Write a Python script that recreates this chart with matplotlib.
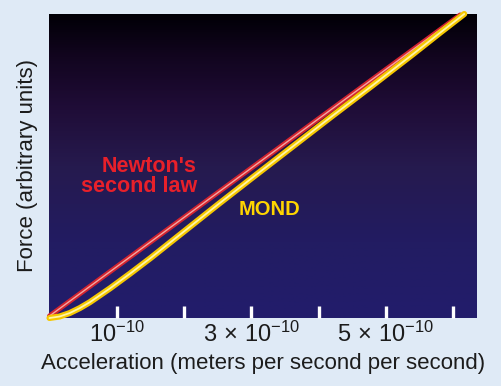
import numpy as np
import matplotlib
matplotlib.use("Agg")
import matplotlib.pyplot as plt
from matplotlib.colors import LinearSegmentedColormap

# data (acceleration in units of 1e-10 m/s^2, force arbitrary)
newton_a = [0.0, 6.1]
newton_f = [0.04, 6.12]

mond_a = [0.0, 0.15, 0.3, 0.45, 0.6, 0.75, 0.9, 1.05, 1.2, 1.5, 2.0, 2.5,
          3.0, 3.6, 4.2, 4.8, 5.4, 5.8, 6.16]
mond_f = [0.0, 0.03, 0.10, 0.20, 0.32, 0.46, 0.60, 0.75, 0.90, 1.21, 1.75,
          2.29, 2.82, 3.45, 4.08, 4.70, 5.33, 5.76, 6.14]

tick_pos = [1, 2, 3, 4, 5, 6]
tick_labels = [r"$10^{-10}$", "", r"$3\,\times\,10^{-10}$", "",
               r"$5\,\times\,10^{-10}$", ""]

FONT = ["Liberation Sans", "DejaVu Sans"]
plt.rcParams["font.family"] = FONT
plt.rcParams["mathtext.fontset"] = "custom"
plt.rcParams["mathtext.rm"] = "Liberation Sans"
plt.rcParams["mathtext.it"] = "Liberation Sans"

BG = "#dfeaf6"
TXT = "#1c1c1c"

fig = plt.figure(figsize=(5.02, 3.86), dpi=100, facecolor=BG)
ax = fig.add_axes([49.5 / 502, 68 / 386, 427.5 / 502, 304 / 386])

xmax, ymax = 6.35, 6.14
ax.set_xlim(0, xmax)
ax.set_ylim(0, ymax)

# background gradient: black at top to dark blue at bottom
cmap = LinearSegmentedColormap.from_list("sky", [
    (0.0, "#221d6c"), (0.25, "#221c62"), (0.5, "#261a4e"),
    (0.7, "#1f0c36"), (0.86, "#12051f"), (1.0, "#010006")])
grad = np.linspace(0, 1, 256).reshape(-1, 1)
ax.imshow(grad, cmap=cmap, origin="lower", aspect="auto",
          extent=[0, xmax, 0, ymax], zorder=0)

# Newton: red with pale core
ax.plot(newton_a, newton_f, color="#d2232f", lw=3.6, solid_capstyle="round",
        zorder=2, clip_on=False)
ax.plot(newton_a, newton_f, color="#f4a5a2", lw=1.0, solid_capstyle="round",
        zorder=2.1, clip_on=False)

# MOND: yellow with pale core
ax.plot(mond_a, mond_f, color="#f6c800", lw=4.4, solid_capstyle="round",
        solid_joinstyle="round", zorder=3, clip_on=False)
ax.plot(mond_a, mond_f, color="#fff6a8", lw=1.3, solid_capstyle="round",
        solid_joinstyle="round", zorder=3.1, clip_on=False)

ax.text(2.19, 2.86, "Newton's\nsecond law", color="#e8202a", fontsize=15.5,
        fontweight="bold", ha="right", va="center", linespacing=0.95)
ax.text(2.81, 2.20, "MOND", color="#ffd500", fontsize=14.5, fontweight="bold",
        ha="left", va="center")

ax.set_xticks(tick_pos)
ax.set_xticklabels(tick_labels)
ax.set_yticks([])
ax.tick_params(axis="x", direction="in", length=8.5, width=2.4, color="white",
               labelsize=17, labelcolor=TXT, pad=3)
for s in ax.spines.values():
    s.set_visible(False)

ax.set_xlabel("Acceleration (meters per second per second)", fontsize=16,
              color=TXT, labelpad=4)
ax.set_ylabel("Force (arbitrary units)", fontsize=16, color=TXT, labelpad=8)

fig.savefig("out.png", dpi=100, facecolor=BG)
